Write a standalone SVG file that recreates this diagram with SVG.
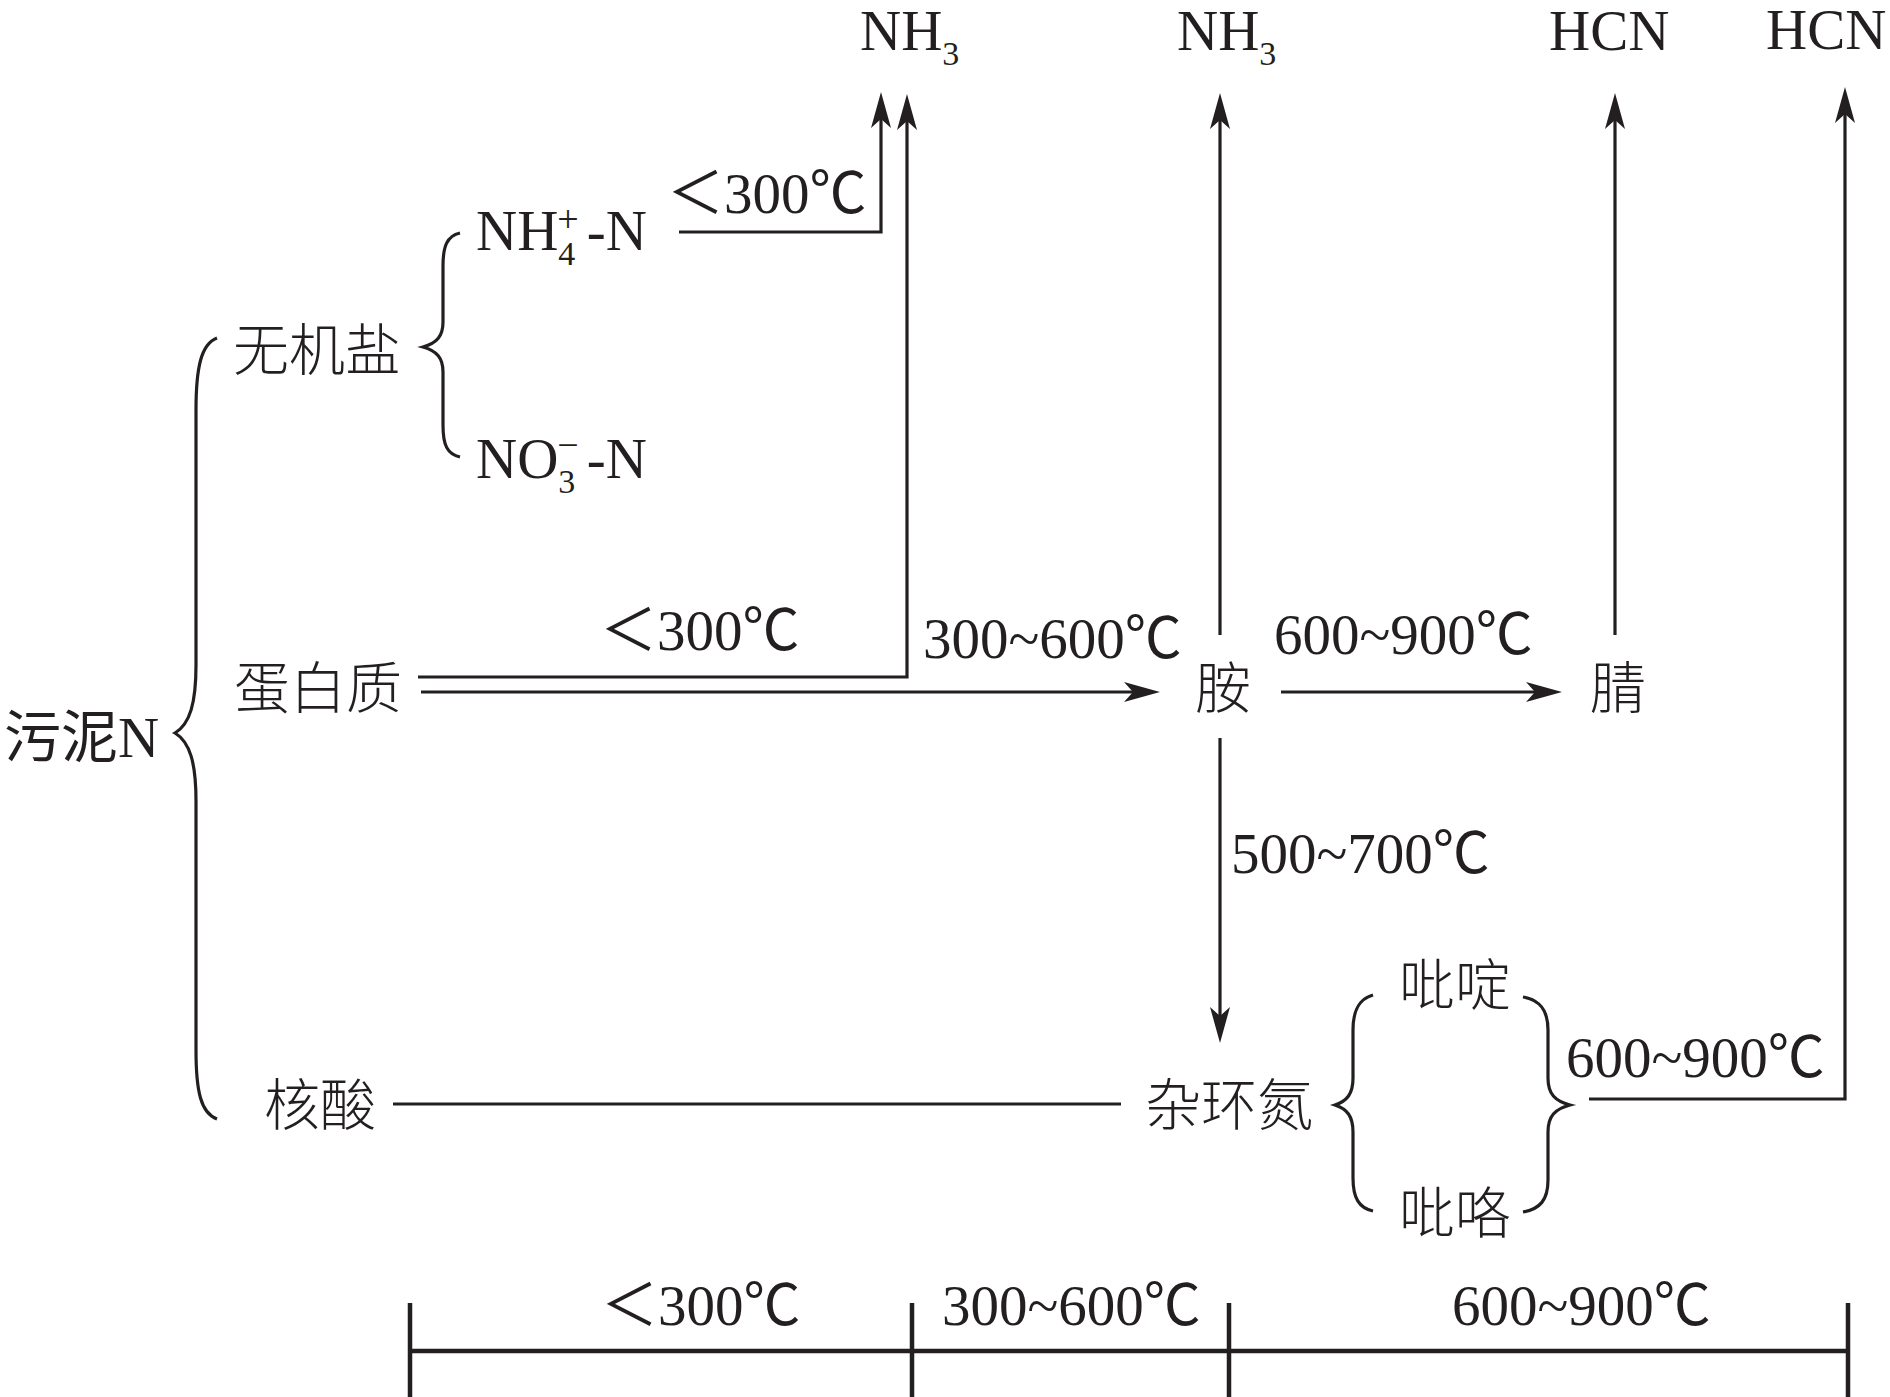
<svg xmlns="http://www.w3.org/2000/svg" width="1890" height="1397" viewBox="0 0 1890 1397">
<style>
.t{font-family:'Liberation Serif','Noto Sans CJK SC',serif;font-size:57px;fill:#231f20}
.s{font-family:'Liberation Serif',serif;font-size:34px;fill:#231f20}
.c{font-family:'Noto Sans CJK SC',sans-serif;font-size:56px;font-weight:300;fill:#231f20;text-anchor:middle}
.ln{fill:none;stroke:#231f20;stroke-width:3.2}
.ax{fill:none;stroke:#231f20;stroke-width:4.5}
.ar{marker-end:url(#ah)}
</style>
<defs>
<marker id="ah" markerUnits="userSpaceOnUse" viewBox="0 -12 38 24" markerWidth="38" markerHeight="24" refX="14" refY="0" orient="auto">
<path d="M36,0 L0,-10 L9,0 L0,10 Z" fill="#231f20"/>
</marker>
</defs>
<rect width="1890" height="1397" fill="#fff"/>

<g id="connectors">
<path class="ln ar" d="M679 232 H881 V114"/>
<path class="ln ar" d="M418 677 H907 V116"/>
<path class="ln ar" d="M421 692 H1138"/>
<path class="ln ar" d="M1220 635 V115"/>
<path class="ln ar" d="M1281 692 H1540"/>
<path class="ln ar" d="M1615 635 V115"/>
<path class="ln ar" d="M1220 738 V1021"/>
<path class="ln" d="M393 1104 H1121"/>
<path class="ln ar" d="M1589 1099 H1845 V109"/>
</g>

<g id="brace-sludge">
<path class="ln" d="M217 338 C201 344,196 368,196 410 L196 665 C196 703,190 724,175 733 C190 742,196 763,196 801 L196 1050 C196 1092,201 1113,217 1119"/>
</g>
<g id="brace-inorganic">
<path class="ln" d="M460 233 C447 236,443 246,443 266 L443 322 C443 336,437 343,423 347 C437 351,443 358,443 372 L443 425 C443 445,447 454,460 457"/>
</g>
<g id="brace-hetero-left">
<path class="ln" d="M1373 995 C1359 999,1353 1010,1353 1030 L1353 1078 C1353 1094,1347 1101,1335 1105 C1347 1109,1353 1116,1353 1132 L1353 1178 C1353 1198,1359 1208,1373 1211"/>
</g>
<g id="brace-hetero-right">
<path class="ln" d="M1523 997 C1540 1000,1548 1010,1548 1030 L1548 1078 C1548 1094,1555 1101,1570 1105 C1555 1109,1548 1116,1548 1132 L1548 1180 C1548 1200,1540 1209,1523 1212"/>
</g>

<g id="node-sludge"><text class="t" x="4" y="757">污泥N</text></g>
<g id="node-inorganic"><text class="c" x="317" y="370">无机盐</text></g>
<g id="node-nh4">
<text class="t" x="476" y="250">NH<tspan class="s" dy="15">4</tspan><tspan class="s" dx="-18" dy="-33" style="font-size:38px">+</tspan><tspan dx="8" dy="18">-N</tspan></text>
</g>
<g id="node-no3">
<text class="t" x="476" y="478">NO<tspan class="s" dy="15">3</tspan><tspan class="s" dx="-18" dy="-35" style="font-size:38px">−</tspan><tspan dx="8" dy="20">-N</tspan></text>
</g>
<g id="node-protein"><text class="c" x="318" y="708">蛋白质</text></g>
<g id="node-nucleic"><text class="c" x="320" y="1125">核酸</text></g>
<g id="node-amine"><text class="c" x="1223" y="708">胺</text></g>
<g id="node-nitrile"><text class="c" x="1618" y="708">腈</text></g>
<g id="node-heterocyclic"><text class="c" x="1229" y="1125">杂环氮</text></g>
<g id="node-pyridine"><text class="c" x="1455" y="1005">吡啶</text></g>
<g id="node-pyrrole"><text class="c" x="1455" y="1233">吡咯</text></g>

<g id="node-nh3-a"><text class="t" x="860" y="50">NH<tspan class="s" dy="15">3</tspan></text></g>
<g id="node-nh3-b"><text class="t" x="1177" y="50">NH<tspan class="s" dy="15">3</tspan></text></g>
<g id="node-hcn-a"><text class="t" x="1549" y="50">HCN</text></g>
<g id="node-hcn-b"><text class="t" x="1766" y="49">HCN</text></g>

<g id="labels">
<text class="t" x="667" y="213">＜300℃</text>
<text class="t" x="600" y="650">＜300℃</text>
<text class="t" x="923" y="658">300~600℃</text>
<text class="t" x="1274" y="654">600~900℃</text>
<text class="t" x="1231" y="873">500~700℃</text>
<text class="t" x="1566" y="1077">600~900℃</text>
</g>

<g id="scale">
<path class="ax" d="M410 1351 H1849 M410 1303 V1397 M912 1303 V1397 M1229 1303 V1397 M1848 1303 V1397"/>
<text class="t" x="601" y="1325">＜300℃</text>
<text class="t" x="942" y="1325">300~600℃</text>
<text class="t" x="1452" y="1325">600~900℃</text>
</g>
</svg>
